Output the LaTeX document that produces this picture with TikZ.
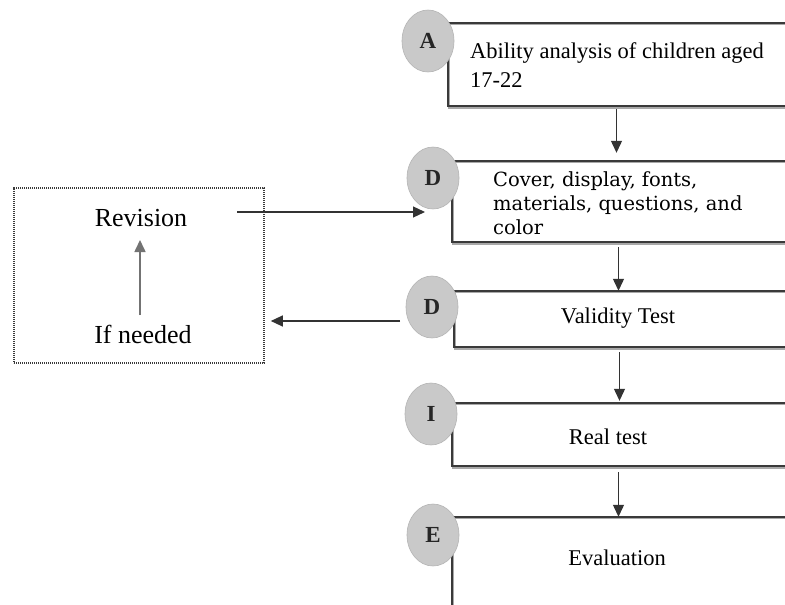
\documentclass[tikz,border=0pt]{standalone}
\usepackage{fontspec}
\setmainfont{Liberation Serif}
\newfontfamily\coverfont{DejaVu Serif}
\usetikzlibrary{arrows.meta,shapes.geometric}
\definecolor{linegray}{HTML}{3A3A3A}
\definecolor{shadegray}{HTML}{A8A8A8}
\definecolor{badgegray}{HTML}{C9C9C9}
\definecolor{badgeedge}{HTML}{B4B4B4}
\definecolor{arrgray}{HTML}{333333}
\newcommand\badgelbl[1]{\raisebox{-4pt}{#1}}
\tikzset{
  area/.style={rectangle, draw=none, inner sep=0pt},
  boxline/.style={line width=2pt, draw=linegray,
    preaction={draw=shadegray, line width=2pt, transform canvas={shift={(0.8pt,-1.6pt)}}}},
  badge/.style={ellipse, minimum width=52pt, minimum height=62pt, inner sep=0pt,
    fill=badgegray, draw=badgeedge, line width=0.6pt,
    font=\fontsize{23}{23}\selectfont\bfseries, text=black!85},
  arr/.style={draw=arrgray, line width=1.2pt, -{Triangle[length=12pt,width=11pt]}},
  boxtext/.style={inner sep=0pt, font=\fontsize{22.5}{29}\selectfont},
  looptext/.style={inner sep=0pt, font=\fontsize{26}{30}\selectfont},
  loopbox/.style={rectangle, draw=linegray, line width=1.6pt, dash pattern=on 1.2pt off 0.8pt, inner sep=0pt}
}
\begin{document}
\begin{tikzpicture}[x=1pt,y=-1pt]
\useasboundingbox[fill=white] (0,0) rectangle (785,605);

% box areas
\node[area, minimum width=337pt, minimum height=83pt] (boxA) at (616.5,64.5) {};
\node[area, minimum width=333pt, minimum height=81pt] (boxD1) at (618.5,201.5) {};
\node[area, minimum width=331pt, minimum height=56pt] (boxD2) at (619.5,319) {};
\node[area, minimum width=333pt, minimum height=63pt] (boxI) at (618.5,434.5) {};
\node[area, minimum width=333pt, minimum height=93pt] (boxE) at (618.5,563.5) {};

\draw[boxline] (boxA.north east) -- (boxA.north west) -- (boxA.south west) -- (boxA.south east);
\draw[boxline] (boxD1.north east) -- (boxD1.north west) -- (boxD1.south west) -- (boxD1.south east);
\draw[boxline] (boxD2.north east) -- (boxD2.north west) -- (boxD2.south west) -- (boxD2.south east);
\draw[boxline] (boxI.north east) -- (boxI.north west) -- (boxI.south west) -- (boxI.south east);
\draw[boxline] (boxE.north east) -- (boxE.north west) -- (boxE.south west);

% badges
\node[badge] (cA) at (428,41) {\badgelbl{A}};
\node[badge] (cD1) at (433,178) {\badgelbl{D}};
\node[badge] (cD2) at (432,307) {\badgelbl{D}};
\node[badge] (cI) at (431,414) {\badgelbl{I}};
\node[badge] (cE) at (433,535) {\badgelbl{E}};

% box texts (base anchor = last line)
\node[boxtext, anchor=base west, align=left] (tA) at (470,87) {Ability analysis of children aged\\17-22};
\node[inner sep=0pt, anchor=base west, align=left, font=\coverfont\fontsize{19.5}{24}\selectfont] (tD1) at (493,234)
  {Cover, display, fonts,\\materials, questions, and\\color};
\node[boxtext, anchor=base] (tD2) at (618,323) {Validity Test};
\node[boxtext, anchor=base] (tI) at (608,444) {Real test};
\node[boxtext, anchor=base] (tE) at (617,565) {Evaluation};

% vertical flow arrows
\draw[arr, shorten <=3pt, shorten >=8pt] (boxA.south) -- (boxA.south |- boxD1.north);
\draw[arr, shorten <=5pt] (boxD1.south) -- (boxD1.south |- boxD2.north);
\draw[arr, shorten <=5pt, shorten >=2pt] (boxD2.south) -- (boxD2.south |- boxI.north);
\draw[arr, shorten <=6pt] (boxI.south) -- (boxI.south |- boxE.north);

% revision loop
\node[loopbox, minimum width=250pt, minimum height=175pt] (loop) at (139,275.5) {};
\node[looptext, anchor=base] (revision) at (141,226) {Revision};
\node[looptext, anchor=base] (ifneeded) at (143,343) {If needed};
\coordinate (upStart) at (140,315);
\coordinate (upEnd) at (140,240);
\draw[arr, draw=black!55, line width=1.6pt] (upStart) -- (upEnd);

\coordinate (revOut) at (237,212);
\coordinate (revIn) at (425,212);
\draw[arr] (revOut) -- (revIn);

\coordinate (valOut) at (400,321);
\draw[arr, shorten >=6pt] (valOut) -- (loop.east |- valOut);
\end{tikzpicture}
\end{document}
